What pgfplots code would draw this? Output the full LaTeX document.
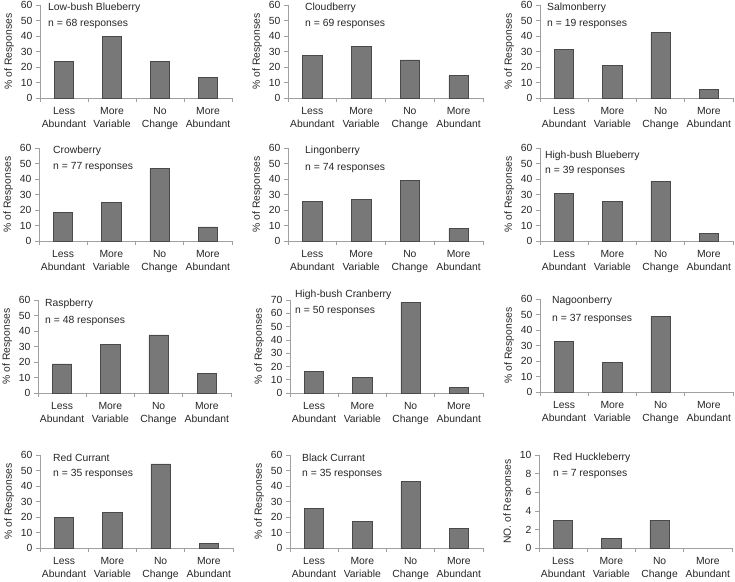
\documentclass[border=0pt]{standalone}
\usepackage{fontspec}
\setmainfont{Liberation Sans}
\usepackage{pgfplots}
\pgfplotsset{compat=1.18}
\definecolor{barfill}{HTML}{787878}
\definecolor{baredge}{HTML}{4A4A4A}
\definecolor{axisgray}{HTML}{A0A0A0}
\newcommand{\fs}{\fontsize{10.4}{13}\selectfont}
\pgfplotsset{panel/.style={
  scale only axis, width=192bp, height=93bp,
  ybar, bar width=0.4,
  xmin=-0.5, xmax=3.5, ymin=0, ymax=60, ytick distance=10,
  enlargelimits=false,
  axis x line=bottom, axis y line=left,
  axis line style={-, draw=axisgray, line width=0.6pt},
  xtick={0,1,2,3},
  xticklabels={Less\\Abundant, More\\Variable, No\\Change, More\\Abundant},
  xticklabel style={align=center, font=\fs, color=black!85, yshift=-2bp},
  major x tick style={draw=none},
  minor xtick={-0.5,0.5,1.5,2.5,3.5},
  minor x tick style={draw=axisgray, line width=0.6pt},
  minor tick length=4bp, major tick length=4bp,
  tick align=outside,
  ytick style={draw=axisgray, line width=0.6pt},
  yticklabel style={font=\fs, color=black!85},
  ylabel style={font=\fs, color=black!85},
  ylabel={\% of Responses},
  /pgf/number format/assume math mode=true,
  clip=false,
}}
% #1 x, #2 y(bottom, from top), #3 extra opts, #4 title, #5 n, #6 coords, #7 text x offset, #8 title rel y, #9 n rel y
\newcommand{\panel}[9]{%
\begin{axis}[panel, at={(#1bp,-#2bp)}, anchor=south west, #3]
\addplot[fill=barfill, draw=baredge, line width=0.6pt] coordinates {#6};
\node[anchor=west, font=\fs, text=black!85, inner sep=0pt, xshift=#7bp] at (rel axis cs:0,#8) {#4};
\node[anchor=west, font=\fs, text=black!85, inner sep=0pt, xshift=#7bp] at (rel axis cs:0,#9) {n = #5 responses};
\end{axis}}
\begin{document}
\begin{tikzpicture}
\path[use as bounding box] (0,0) rectangle (735bp,-582bp);
\panel{40}{98}{width=192bp}{Low-bush Blueberry}{68}{(0,23.5) (1,39.7) (2,23.5) (3,13.2)}{8}{0.975}{0.80}
\panel{288}{98}{width=195bp}{Cloudberry}{69}{(0,27.5) (1,33.3) (2,24.6) (3,14.5)}{17}{0.975}{0.80}
\panel{540}{98}{width=193bp}{Salmonberry}{19}{(0,31.6) (1,21.1) (2,42.1) (3,5.3)}{7}{0.975}{0.80}
\panel{39}{241}{width=193bp}{Crowberry}{77}{(0,18.2) (1,24.7) (2,46.8) (3,9.1)}{14}{0.97}{0.80}
\panel{288}{241}{width=195bp}{Lingonberry}{74}{(0,25.7) (1,27.0) (2,39.2) (3,8.1)}{17}{0.97}{0.79}
\panel{540}{241}{width=193bp}{High-bush Blueberry}{39}{(0,30.8) (1,25.6) (2,38.5) (3,5.1)}{5}{0.92}{0.75}
\panel{38}{393}{width=193bp}{Raspberry}{48}{(0,18.75) (1,31.25) (2,37.5) (3,12.5)}{7}{0.96}{0.78}
\panel{290}{393}{width=193bp, ymax=70}{High-bush Cranberry}{50}{(0,16) (1,12) (2,68) (3,4)}{5}{1.06}{0.88}
\panel{540}{392}{width=193bp}{Nagoonberry}{37}{(0,32.4) (1,18.9) (2,48.6)}{12}{0.98}{0.79}
\panel{40}{548}{width=193bp}{Red Currant}{35}{(0,20) (1,22.9) (2,54.3) (3,2.9)}{13}{0.975}{0.80}
\panel{290}{548}{width=193bp}{Black Currant}{35}{(0,25.7) (1,17.1) (2,42.9) (3,12.9)}{12}{0.975}{0.80}
\panel{539}{548}{width=193bp, ymax=10, ytick distance=2, ylabel={NO. of Responses}}{Red Huckleberry}{7}{(0,3) (1,1) (2,3)}{14}{0.975}{0.80}
\end{tikzpicture}
\end{document}
